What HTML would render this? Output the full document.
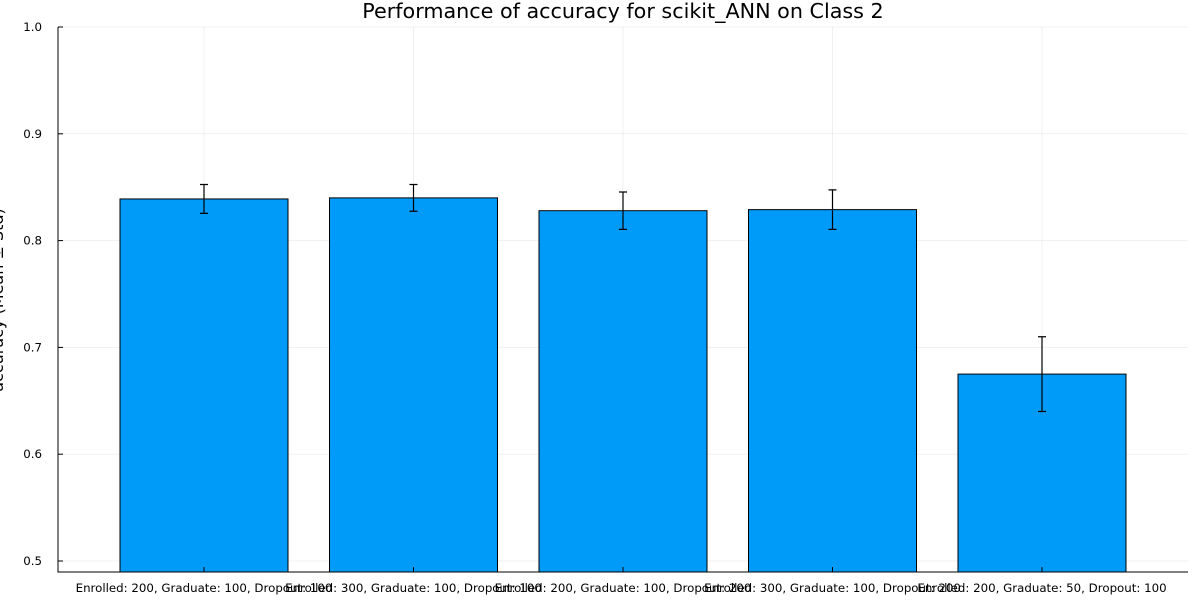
<!DOCTYPE html>
<html><head><meta charset="utf-8"><style>
body{margin:0;background:#fff}
svg{display:block;font-family:"DejaVu Sans","Liberation Sans",sans-serif}
</style></head><body>
<svg id="chart" width="1200" height="600">
<text x="623" y="18" font-size="20.7" text-anchor="middle">Performance of accuracy for scikit_ANN on Class 2</text>
<text transform="translate(3,300) rotate(-90)" font-size="16" text-anchor="middle">accuracy (Mean ± Std)</text>
<g id="grid"></g><g id="bars"></g><g id="axes"></g>
</svg>
<script>
const categories=["Enrolled: 200, Graduate: 100, Dropout: 100","Enrolled: 300, Graduate: 100, Dropout: 100","Enrolled: 200, Graduate: 100, Dropout: 200","Enrolled: 300, Graduate: 100, Dropout: 200","Enrolled: 200, Graduate: 50, Dropout: 100"];
const means=[0.839,0.840,0.828,0.829,0.675];
const stds=[0.0135,0.0125,0.0175,0.0185,0.035];
const yTicks=[0.5,0.6,0.7,0.8,0.9,1.0];
const yTickLabels=["0.5","0.6","0.7","0.8","0.9","1.0"];
const NS="http://www.w3.org/2000/svg";
const L=58,R=1188,T=27,B=572;
const y=v=>27+(1.0-v)*1068;
const xc=i=>204+i*209.5;
function mk(t,a,p){const e=document.createElementNS(NS,t);for(const k in a)e.setAttribute(k,a[k]);p.appendChild(e);return e;}
const grid=document.getElementById('grid'),bars=document.getElementById('bars'),axes=document.getElementById('axes');
yTicks.forEach((v,i)=>{
 const g=mk('line',{x1:L,x2:R,y1:y(v),y2:y(v),stroke:'#000','stroke-opacity':0.06,'stroke-width':1},grid);
 
 
 const tk=mk('line',{x1:L,x2:L+5,y1:y(v),y2:y(v),stroke:'#000'},axes);
 
 
 const t=mk('text',{x:L-16,y:y(v)+4,'font-size':11.8,'text-anchor':'end'},axes);
 t.textContent=yTickLabels[i];
 
 
});
const bw=168;
categories.forEach((c,i)=>{
 const x=xc(i);
 const vg=mk('line',{x1:x,x2:x,y1:T,y2:B,stroke:'#000','stroke-opacity':0.06},grid);
 
 
 const r=mk('rect',{x:x-bw/2,y:y(means[i]),width:bw,height:B-y(means[i]),fill:'#009af9',stroke:'#000','stroke-width':1},bars);
 
 
 const hi=y(means[i]+stds[i]),lo=y(means[i]-stds[i]);
 const e=mk('path',{d:`M${x},${hi}V${lo}M${x-4},${hi}H${x+4}M${x-4},${lo}H${x+4}`,stroke:'#000','stroke-width':1.2,fill:'none'},bars);
 
 
 const tk=mk('line',{x1:x,x2:x,y1:B,y2:B-5,stroke:'#000'},axes);
 
 
 const t=mk('text',{x:x,y:592,'font-size':11.8,'text-anchor':'middle'},axes);
 t.textContent=c;
 
 
});
const ax=mk('path',{d:`M${L},${T}V${B}H${R}`,stroke:'#000',fill:'none','stroke-width':1},axes);


</script>
</body></html>
